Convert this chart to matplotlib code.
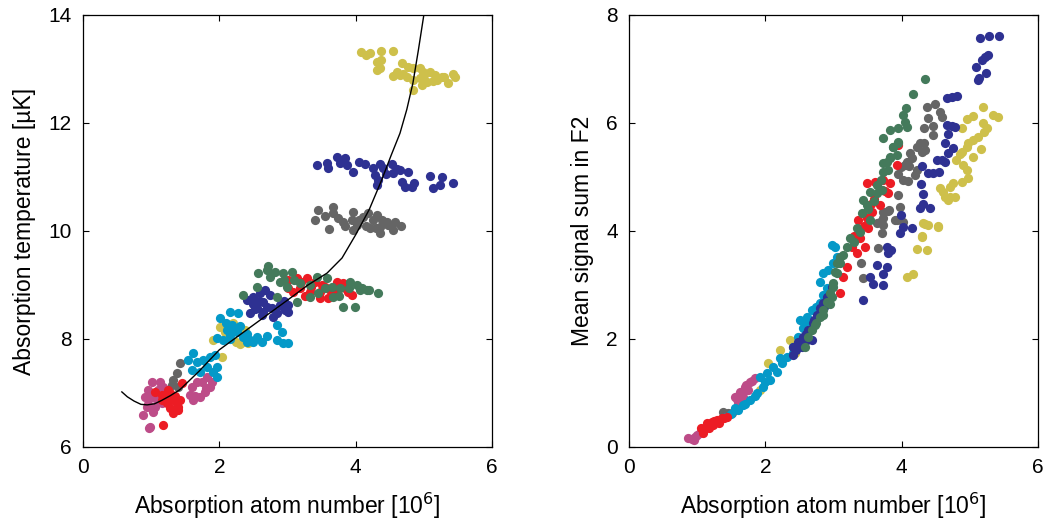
import matplotlib
matplotlib.use("Agg")
import matplotlib.pyplot as plt

plt.rcParams['font.family'] = ['Liberation Sans', 'DejaVu Sans']

# colours of the separate measurement runs
c_yellow = '#CEC04B'
c_blue = '#2E3192'
c_gray = '#656565'
c_green = '#447A5B'
c_red = '#EC1C24'
c_cyan = '#0499C8'
c_pink = '#BD4C88'

# ---- left panel: temperature vs atom number ----
yellow_xt = [2.01, 1.91, 2.08, 2.30, 2.38, 2.42, 2.35, 2.04, 2.20, 2.25, 2.30,
             4.08, 4.15, 4.21, 4.37, 4.55, 4.31, 4.37, 4.31, 4.36, 4.68, 4.77, 4.84, 4.94, 4.99,
             5.09, 5.16, 5.27, 5.35, 5.46, 5.43, 4.55, 4.65, 4.75, 4.84, 4.94, 5.05, 4.84, 4.97, 5.13,
             4.60, 4.70, 5.00, 5.20, 5.30]
yellow_t = [8.22, 7.98, 8.13, 8.22, 8.17, 7.93, 7.94, 7.67, 8.30, 7.95, 7.90,
            13.31, 13.26, 13.30, 13.33, 13.33, 13.13, 13.17, 12.98, 13.02, 13.11, 13.04, 13.02, 13.02, 12.94,
            12.94, 12.89, 12.85, 12.74, 12.85, 12.91, 12.87, 12.89, 12.85, 12.80, 12.83, 12.76, 12.61, 12.70, 12.78,
            12.95, 12.90, 12.88, 12.80, 12.85]

gray_xt = [1.42, 1.38, 1.32, 1.31, 1.39, 1.20, 1.23,
           3.45, 3.67, 3.67, 3.40, 3.61, 3.74, 3.81, 3.96, 3.95, 4.11, 4.18, 4.25, 4.31, 4.39, 4.36,
           4.46, 4.58, 4.66, 4.55, 4.36, 3.96, 4.02, 4.21, 3.85, 4.05, 4.15, 4.30, 4.48, 3.55]
gray_t = [7.56, 7.37, 7.24, 7.15, 7.11, 6.87, 6.93,
          10.39, 10.44, 10.33, 10.20, 10.04, 10.24, 10.17, 10.35, 10.20, 10.26, 10.33, 10.20, 10.30, 10.20, 10.07,
          10.17, 10.17, 10.09, 10.02, 9.96, 10.02, 10.11, 10.06, 10.10, 10.20, 10.10, 10.05, 10.12, 10.28]

pink_xt = [1.01, 1.13, 1.17, 0.95, 0.91, 1.01, 1.09, 0.94, 0.88, 1.03, 1.16, 0.98, 1.23, 0.97,
           0.95, 1.05, 1.10,
           1.60, 1.67, 1.82, 1.86, 1.79, 1.72, 1.61, 1.57, 1.89, 1.75, 1.65, 1.80]
pink_t = [7.20, 7.20, 7.11, 7.06, 6.93, 6.93, 6.87, 6.74, 6.59, 6.65, 6.81, 6.37, 6.98, 6.35,
          6.80, 6.75, 7.05,
          7.11, 7.20, 7.30, 7.11, 7.02, 6.93, 6.87, 6.96, 7.20, 7.20, 6.95, 7.10]

cyan_xt = [2.01, 2.16, 2.27, 2.19, 2.11, 1.97, 2.05, 2.16, 2.26, 2.35, 2.45, 2.55, 2.63, 2.85, 2.92, 2.85,
           2.93, 3.01, 2.10, 2.20, 2.30, 2.15, 2.40, 2.50, 2.70, 2.40,
           1.61, 1.54, 1.67, 1.76, 1.86, 1.94, 1.82, 1.97, 1.60, 1.72, 1.97, 1.91]
cyan_t = [8.39, 8.50, 8.48, 8.26, 8.17, 8.02, 7.98, 8.07, 8.13, 8.04, 7.98, 8.04, 7.94, 8.26, 8.13, 7.98,
          7.93, 7.93, 8.30, 8.20, 8.25, 8.00, 8.10, 7.95, 8.05, 7.95,
          7.74, 7.61, 7.57, 7.61, 7.67, 7.70, 7.48, 7.48, 7.43, 7.39, 7.30, 7.39]

blue_xt = [2.41, 2.49, 2.60, 2.67, 2.74, 2.64, 2.55, 2.45, 2.64, 2.77, 2.89, 2.96, 3.01, 2.79,
           2.50, 2.58, 2.70, 2.62, 2.52, 2.85, 2.95, 3.00,
           3.43, 3.58, 3.59, 3.73, 3.84, 3.77, 3.87, 3.96, 4.05, 4.14, 4.25, 4.28, 4.33, 4.31, 4.40,
           4.53, 4.55, 4.65, 4.68, 4.77, 4.72, 4.83, 5.09, 5.13, 5.24, 5.27, 5.43,
           4.45, 4.60, 4.85, 4.35]
blue_t = [8.72, 8.78, 8.85, 8.91, 8.81, 8.69, 8.57, 8.48, 8.50, 8.57, 8.63, 8.54, 8.63, 8.41,
          8.65, 8.70, 8.60, 8.45, 8.55, 8.48, 8.70, 8.50,
          11.22, 11.26, 11.17, 11.37, 11.35, 11.26, 11.22, 11.09, 11.28, 11.24, 11.17, 11.04, 10.94, 10.85, 11.17,
          11.24, 11.07, 11.13, 10.91, 11.09, 10.81, 10.81, 11.02, 10.80, 10.85, 11.00, 10.89,
          11.05, 11.15, 10.88, 11.25]

red_xt = [1.06, 1.16, 1.23, 1.28, 1.32, 1.38, 1.28, 1.32, 1.42, 1.45, 1.17, 1.16, 1.23, 1.39,
          1.35, 1.25, 1.40,
          3.01, 3.14, 3.29, 3.40, 3.18, 3.33, 3.48, 3.55, 3.48, 3.59, 3.73, 3.81, 3.89, 3.95, 3.08, 3.01,
          3.20, 3.35, 3.50, 3.62, 3.70, 3.25, 3.85]
red_t = [7.02, 6.96, 6.93, 7.00, 6.87, 6.81, 6.72, 6.63, 6.87, 7.19, 6.41, 6.87, 6.81, 6.69,
         6.95, 7.05, 6.75,
         9.09, 9.13, 9.13, 9.06, 8.94, 8.87, 8.87, 8.96, 8.76, 8.76, 9.06, 9.04, 8.87, 8.81, 8.87, 8.94,
         9.05, 8.97, 9.00, 8.90, 8.85, 8.80, 8.95]

green_xt = [2.57, 2.70, 2.82, 2.74, 2.93, 3.07, 2.89, 2.99, 3.18, 3.33, 3.43, 3.58, 3.65, 3.77, 3.92,
            4.02, 4.06, 4.17, 4.33, 3.81, 3.99, 2.55, 2.35, 2.85, 3.14, 3.67, 3.33, 2.71,
            3.45, 3.55, 3.90, 4.10, 4.20, 3.10, 2.95, 3.75]
green_t = [9.22, 9.28, 9.24, 9.15, 9.22, 9.24, 9.06, 8.96, 9.04, 9.00, 9.15, 9.13, 8.96, 8.94, 9.06,
           9.00, 8.91, 8.91, 8.85, 8.59, 8.59, 8.96, 8.81, 8.78, 8.69, 8.78, 8.78, 9.35,
           8.85, 8.95, 8.95, 8.95, 8.90, 9.10, 9.10, 8.80]

# fitted curve
fit_x = [0.57, 0.65, 0.75, 0.85, 0.94, 1.05, 1.15, 1.28, 1.42, 1.70, 2.00, 2.50, 3.00, 3.30, 3.58,
         3.80, 4.00, 4.20, 4.38, 4.52, 4.65, 4.75, 4.84, 4.92, 5.00]
fit_t = [7.02, 6.93, 6.85, 6.79, 6.78, 6.80, 6.86, 6.95, 7.06, 7.40, 7.80, 8.26, 8.72, 9.00, 9.22,
         9.50, 9.93, 10.40, 10.94, 11.40, 11.81, 12.25, 12.74, 13.35, 14.00]

# ---- right panel: mean signal sum vs atom number ----
yellow_xs = [2.04, 2.21, 2.36, 1.92, 2.44,
             5.19, 5.05, 4.96, 4.88, 5.34, 5.41, 5.19, 5.25, 5.21, 5.12, 5.05, 4.97, 4.96, 5.16, 4.88, 4.86,
             4.80, 5.05, 4.90, 4.96, 4.97, 4.88, 4.75, 4.71, 4.56, 4.61, 4.64, 4.71, 4.68, 4.78, 4.34, 4.53,
             4.30, 4.31, 4.39, 4.53, 4.30, 4.22, 4.37, 4.08, 4.17]
yellow_s = [1.56, 1.80, 1.98, 1.06, 1.74,
            6.30, 6.13, 6.07, 5.91, 6.15, 6.11, 6.00, 5.91, 5.83, 5.74, 5.69, 5.63, 5.56, 5.52, 5.46, 5.43,
            5.31, 5.37, 5.22, 5.13, 4.98, 4.91, 4.89, 4.81, 4.80, 4.72, 4.63, 4.63, 4.57, 4.63, 4.13, 4.09,
            3.91, 4.15, 4.11, 4.07, 3.89, 3.67, 3.65, 3.15, 3.20]

gray_xs = [1.38, 1.45, 1.51,
           4.37, 4.49, 4.56, 4.59, 4.39, 4.33, 4.46, 4.46, 4.27, 4.33, 4.23, 4.30, 4.34, 4.12, 4.15, 4.08,
           4.05, 3.99, 4.11, 4.23, 3.95, 4.02, 4.09, 4.19, 3.95, 3.98, 3.80, 3.73, 3.90, 4.02, 3.64, 3.73,
           3.65, 3.40, 3.43, 3.71, 3.68, 3.73, 3.81, 3.93]
gray_s = [0.65, 0.63, 0.63,
          6.30, 6.35, 6.20, 6.11, 6.09, 5.91, 5.94, 5.78, 5.63, 5.63, 5.56, 5.46, 5.50, 5.44, 5.35, 5.28,
          5.22, 5.19, 5.20, 5.13, 5.06, 4.94, 4.93, 5.04, 4.67, 4.44, 4.37, 4.24, 4.20, 4.17, 4.15, 4.11,
          3.69, 3.41, 3.13, 3.96, 4.17, 4.35, 4.39, 4.20]

pink_xs = [0.87, 0.92, 0.97, 1.00, 1.04, 1.09, 0.95,
           1.55, 1.63, 1.70, 1.77, 1.85, 1.75, 1.67, 1.60, 1.58, 1.72, 1.80, 1.60, 1.70, 1.65]
pink_s = [0.17, 0.15, 0.19, 0.22, 0.26, 0.31, 0.13,
          0.93, 1.02, 1.11, 1.20, 1.28, 1.06, 0.93, 0.83, 0.88, 1.15, 1.22, 0.95, 1.05, 0.98]

cyan_xs = [1.92, 2.02, 2.11, 2.21, 2.32, 2.17, 2.07, 1.97, 1.88, 1.78, 1.67, 1.60, 2.41, 2.48, 2.55, 2.61,
           2.51, 2.68, 2.80, 2.85, 2.90, 2.80, 2.85, 2.92, 2.99, 3.05, 3.02, 2.98, 1.50, 1.42,
           1.55, 1.70, 1.85, 2.00, 2.25, 2.60, 2.75, 2.40]
cyan_s = [1.30, 1.37, 1.48, 1.65, 1.67, 1.39, 1.24, 1.11, 1.00, 0.87, 0.78, 0.69, 1.85, 2.04, 2.20, 2.41,
          2.35, 2.54, 2.67, 2.81, 2.94, 3.06, 3.22, 3.28, 3.41, 3.52, 3.70, 3.74, 0.62, 0.56,
          0.72, 0.80, 0.95, 1.20, 1.55, 2.30, 2.60, 1.75]

blue_xs = [2.41, 2.48, 2.55, 2.63, 2.70, 2.76, 2.80, 2.85, 2.90, 2.68, 2.51, 2.66, 2.54, 2.41, 2.98,
           2.45, 2.60, 2.72, 2.86, 2.58,
           5.15, 5.28, 5.43, 5.18, 5.22, 5.27, 5.09, 5.24, 5.12, 5.13, 4.66, 4.74, 4.81, 4.66, 4.74, 4.78,
           4.68, 4.63, 4.75, 4.68, 4.52, 4.59, 4.64, 4.39, 4.46, 4.55, 4.28, 4.31, 4.31, 4.27, 4.42,
           3.99, 4.02, 4.15, 3.98, 4.30, 3.78, 3.84, 3.80, 3.64, 3.78, 3.73, 3.54, 3.58, 3.73, 3.43]
blue_s = [1.85, 1.94, 2.04, 2.17, 2.30, 2.44, 2.57, 2.67, 2.78, 1.98, 1.89, 2.17, 1.85, 1.70, 2.96,
          1.80, 2.10, 2.35, 2.60, 1.95,
          7.57, 7.61, 7.61, 7.17, 7.22, 7.26, 7.04, 6.93, 6.80, 6.83, 6.46, 6.48, 6.50, 5.96, 5.94, 5.93,
          5.80, 5.63, 5.54, 5.44, 5.31, 5.31, 5.27, 5.07, 5.07, 5.09, 4.87, 4.69, 4.50, 4.43, 4.43,
          4.30, 4.07, 4.06, 3.96, 5.20, 3.70, 3.65, 3.59, 3.37, 3.33, 3.20, 3.15, 3.02, 3.00, 2.72]

red_xs = [1.14, 1.22, 1.29, 1.36, 1.44, 1.23, 1.09, 1.18, 1.32, 1.05, 1.25, 1.40,
          3.49, 3.61, 3.73, 3.83, 3.71, 3.80, 3.68, 3.56, 3.49, 3.36, 3.51, 3.39, 3.27, 3.34, 3.46, 3.20,
          3.14, 3.10, 3.95, 3.93, 3.30, 3.45, 3.60, 3.75, 3.55]
red_s = [0.44, 0.46, 0.50, 0.54, 0.56, 0.41, 0.26, 0.36, 0.45, 0.35, 0.48, 0.53,
         4.89, 4.91, 4.94, 4.89, 4.76, 4.70, 4.48, 4.35, 4.24, 4.20, 4.06, 3.87, 3.70, 3.59, 3.70, 3.33,
         3.15, 2.85, 5.59, 5.22, 3.90, 4.10, 4.60, 4.75, 4.50]

green_xs = [4.34, 4.17, 4.06, 4.02, 4.05, 4.08, 3.95, 3.83, 3.73, 3.95, 3.87, 3.93, 3.78, 3.73, 3.83,
            3.87, 3.95, 3.83, 3.73, 3.80, 3.54, 3.64, 3.71, 3.43, 3.49, 3.42, 3.54, 3.34, 3.39, 3.24,
            3.14, 3.10, 3.05, 2.99, 2.98, 3.64, 3.10, 3.05, 3.02, 2.99, 2.95, 2.90, 2.85, 2.80, 2.73,
            2.68, 2.58, 2.63, 2.75, 2.85, 2.95, 3.20, 3.30, 3.50, 3.60, 3.70]
green_s = [6.81, 6.54, 6.28, 6.15, 6.02, 5.93, 5.91, 5.87, 5.72, 5.65, 5.56, 5.41, 5.28, 5.09, 5.35,
           5.56, 5.63, 5.37, 5.26, 5.13, 4.72, 4.70, 4.76, 4.57, 4.48, 4.33, 4.20, 4.06, 3.98, 3.87,
           3.56, 3.41, 3.22, 2.96, 2.78, 4.85, 3.52, 3.41, 3.24, 3.04, 2.85, 2.69, 2.54, 2.41, 2.26,
           2.17, 1.85, 2.04, 2.30, 2.45, 2.65, 3.70, 3.80, 4.40, 4.55, 4.95]

fig = plt.figure(figsize=(10.51, 5.28), dpi=100)
ax1 = fig.add_axes([83 / 1051, 81 / 528, 409 / 1051, 432 / 528])
ax2 = fig.add_axes([629 / 1051, 81 / 528, 409 / 1051, 432 / 528])

ms = 44
left_sets = [(yellow_xt, yellow_t, c_yellow), (gray_xt, gray_t, c_gray), (pink_xt, pink_t, c_pink),
             (cyan_xt, cyan_t, c_cyan), (blue_xt, blue_t, c_blue), (red_xt, red_t, c_red),
             (green_xt, green_t, c_green)]
right_sets = [(yellow_xs, yellow_s, c_yellow), (gray_xs, gray_s, c_gray), (pink_xs, pink_s, c_pink),
              (cyan_xs, cyan_s, c_cyan), (blue_xs, blue_s, c_blue), (red_xs, red_s, c_red),
              (green_xs, green_s, c_green)]

for xs, ys, col in left_sets:
    ax1.scatter(xs, ys, s=ms, color=col, linewidths=0, zorder=2)
ax1.plot(fit_x, fit_t, color='black', lw=1.0, zorder=3)

for xs, ys, col in right_sets:
    ax2.scatter(xs, ys, s=ms, color=col, linewidths=0, zorder=2)

ax1.set_xlim(0, 6)
ax1.set_ylim(6, 14)
ax1.set_yticks([6, 8, 10, 12, 14])
ax1.set_ylabel('Absorption temperature [\u00b5K]', fontsize=16.5, labelpad=9)

ax2.set_xlim(0, 6)
ax2.set_ylim(0, 8)
ax2.set_yticks([0, 2, 4, 6, 8])
ax2.set_ylabel('Mean signal sum in F2', fontsize=16.5, labelpad=9)

for ax in (ax1, ax2):
    ax.set_xticks([0, 2, 4, 6])
    ax.set_xlabel('Absorption atom number [10$^6$]', fontsize=16.5, labelpad=10)
    ax.tick_params(direction='in', top=True, right=True, length=4, width=0.8,
                   labelsize=15, pad=8)
    for sp in ax.spines.values():
        sp.set_linewidth(0.9)

fig.savefig('out.png', dpi=100)
